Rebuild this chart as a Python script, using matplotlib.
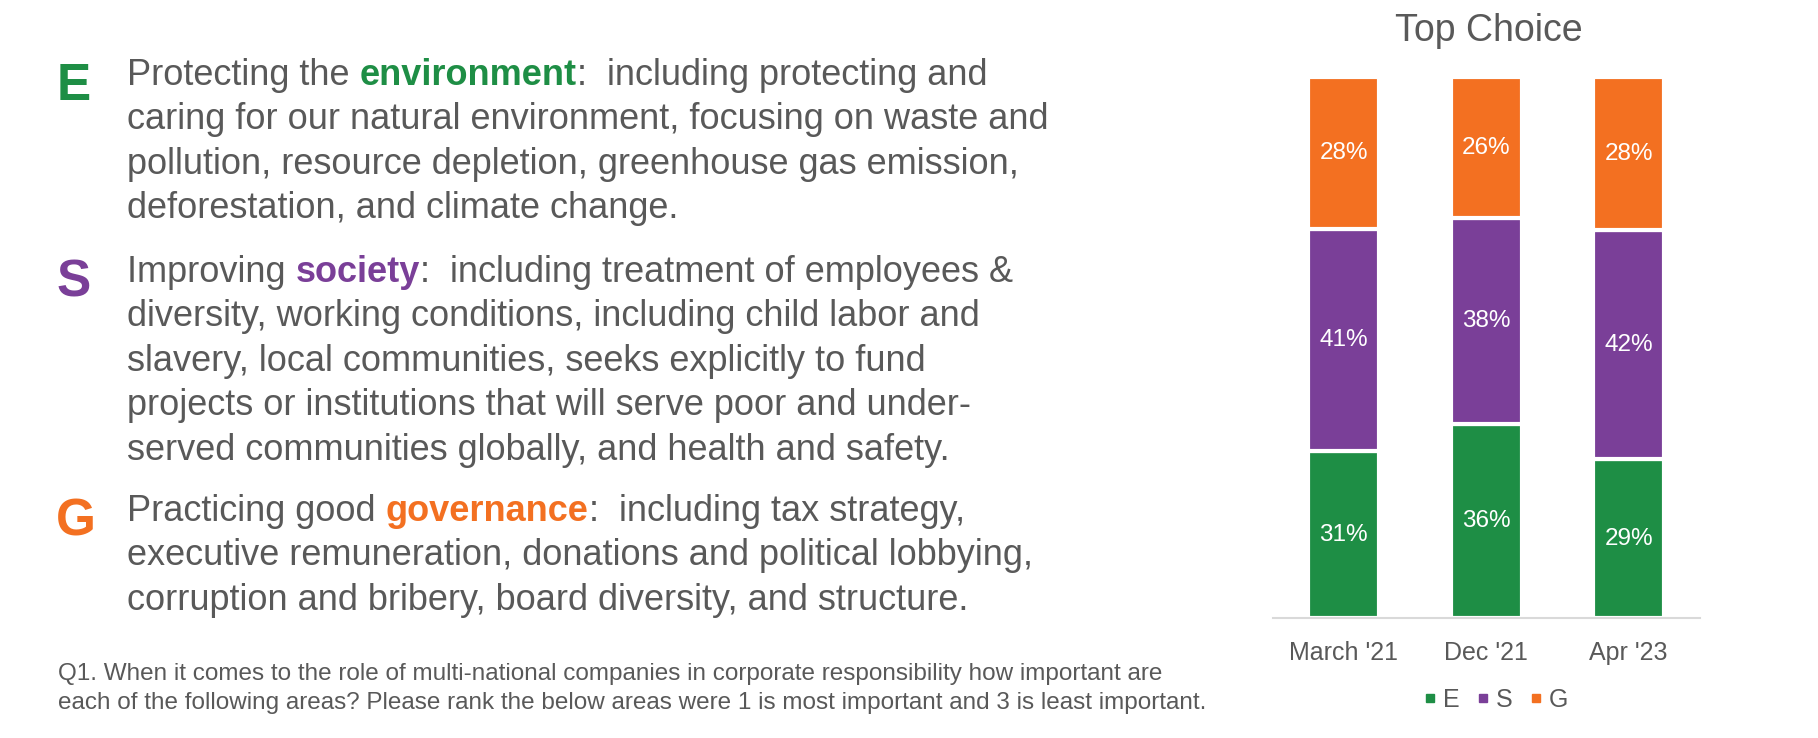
import matplotlib.pyplot as plt
from matplotlib.lines import Line2D

plt.rcParams['font.family'] = ['Liberation Sans', 'DejaVu Sans']

# data
periods = ["March '21", "Dec '21", "Apr '23"]
e_vals = [31, 36, 29.4]
s_vals = [41, 38, 42.4]
g_vals = [28, 26, 28.2]
series_names = ['E', 'S', 'G']

GREEN = '#1E8E45'
PURPLE = '#7A3F98'
ORANGE = '#F37021'
GRAY = '#595959'

e_lines = [
    [('Protecting the ', GRAY, 'normal'), ('environment', GREEN, 'bold'),
     (':  including protecting and', GRAY, 'normal')],
    [('caring for our natural environment, focusing on waste and', GRAY, 'normal')],
    [('pollution, resource depletion, greenhouse gas emission,', GRAY, 'normal')],
    [('deforestation, and climate change.', GRAY, 'normal')],
]
s_lines = [
    [('Improving ', GRAY, 'normal'), ('society', PURPLE, 'bold'),
     (':  including treatment of employees &', GRAY, 'normal')],
    [('diversity, working conditions, including child labor and', GRAY, 'normal')],
    [('slavery, local communities, seeks explicitly to fund', GRAY, 'normal')],
    [('projects or institutions that will serve poor and under-', GRAY, 'normal')],
    [('served communities globally, and health and safety.', GRAY, 'normal')],
]
g_lines = [
    [('Practicing good ', GRAY, 'normal'), ('governance', ORANGE, 'bold'),
     (':  including tax strategy,', GRAY, 'normal')],
    [('executive remuneration, donations and political lobbying,', GRAY, 'normal')],
    [('corruption and bribery, board diversity, and structure.', GRAY, 'normal')],
]
footnote = ["Q1. When it comes to the role of multi-national companies in corporate responsibility how important are",
            "each of the following areas? Please rank the below areas were 1 is most important and 3 is least important."]

fig = plt.figure(figsize=(18.18, 7.38), dpi=100)
renderer = fig.canvas.get_renderer()
W = fig.bbox.width


def text_width(s, **kw):
    t = fig.text(0, 0, 'x' + s + 'x', **kw)
    w1 = t.get_window_extent(renderer).width
    t.remove()
    t = fig.text(0, 0, 'xx', **kw)
    w0 = t.get_window_extent(renderer).width
    t.remove()
    return w1 - w0


def rich_line(x, y, parts, size=26):
    for txt, col, wt in parts:
        fig.text(x, y, txt, color=col, fontweight=wt, fontsize=size, va='baseline')
        x += text_width(txt, fontsize=size, fontweight=wt) / W


def block(letter, col, lines, y0, step=0.0602):
    fig.text(0.031, 1 - y0 - 0.020, letter, color=col, fontsize=37,
             fontweight='bold', va='baseline')
    for i, parts in enumerate(lines):
        rich_line(0.070, 1 - y0 - i * step, parts)


block('E', GREEN, e_lines, 0.115)
block('S', PURPLE, s_lines, 0.382)
block('G', ORANGE, g_lines, 0.706)

for i, ln in enumerate(footnote):
    fig.text(0.032, 1 - 0.921 - i * 0.040, ln, color=GRAY, fontsize=17.5, va='baseline')

# chart
ax = fig.add_axes([0.700, 0.162, 0.235, 0.733])
x = range(len(periods))
bottom_s = [e for e in e_vals]
bottom_g = [e + s for e, s in zip(e_vals, s_vals)]
ax.bar(x, e_vals, width=0.5, color=GREEN, edgecolor='white', linewidth=3)
ax.bar(x, s_vals, width=0.5, bottom=bottom_s, color=PURPLE, edgecolor='white', linewidth=3)
ax.bar(x, g_vals, width=0.5, bottom=bottom_g, color=ORANGE, edgecolor='white', linewidth=3)

for i in x:
    for v, b in ((e_vals[i], 0), (s_vals[i], bottom_s[i]), (g_vals[i], bottom_g[i])):
        ax.text(i, b + v / 2, f"{v:.0f}%", ha='center', va='center',
                color='white', fontsize=17.5)

ax.set_xlim(-0.5, 2.5)
ax.set_ylim(0, 100)
ax.set_xticks(list(x))
ax.set_xticklabels(periods)
ax.tick_params(axis='x', length=0, pad=16, labelsize=18, labelcolor=GRAY)
ax.set_yticks([])
for side in ['left', 'right', 'top']:
    ax.spines[side].set_visible(False)
ax.spines['bottom'].set_color('#D9D9D9')
ax.spines['bottom'].set_linewidth(1.5)

fig.text(0.819, 1 - 0.042, 'Top Choice', ha='center', va='center', fontsize=27, color=GRAY)

handles = [Line2D([], [], marker='s', linestyle='none', color=c, markersize=6)
           for c in (GREEN, PURPLE, ORANGE)]
fig.legend(handles, series_names, loc='center', bbox_to_anchor=(0.823, 0.052), ncol=3,
           frameon=False, handlelength=0.5, handletextpad=0.25, columnspacing=0.7,
           fontsize=18, labelcolor=GRAY)

plt.savefig('out.png', dpi=100)
